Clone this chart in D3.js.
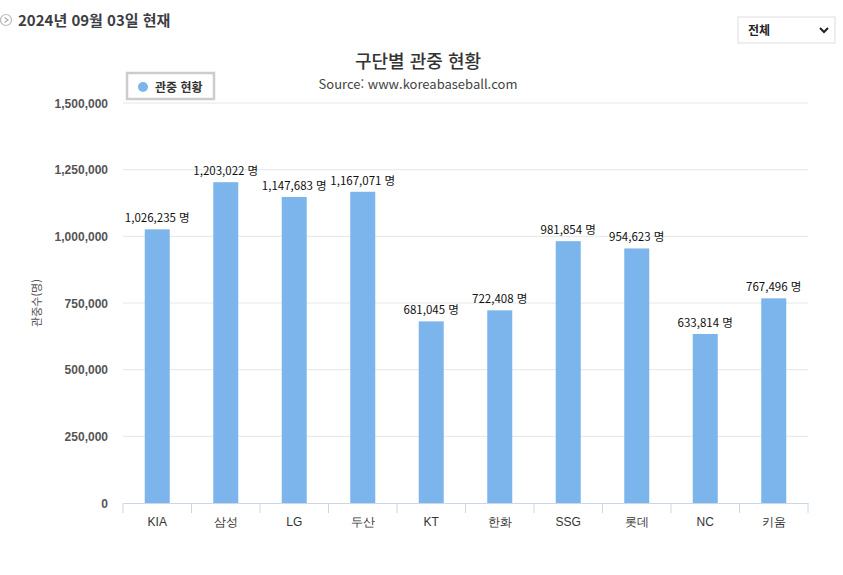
<!DOCTYPE html>
<html lang="ko">
<head>
<meta charset="UTF-8">
<title>구단별 관중 현황</title>
<script src="https://d3js.org/d3.v7.min.js"></script>
<style>
  body { margin: 0; background: #fff; font-family: "Noto Sans CJK KR", "Noto Sans", sans-serif; }
  svg { display: block; }
  .grid line { stroke: #e6e6e6; }
  .axis-y text { fill: #555; font-size: 12px; font-weight: 600; }
  .axis-x text { fill: #333; font-size: 12px; }
  .label { font-size: 11.5px; fill: #111; text-anchor: middle; }
</style>
</head>
<body>
<div id="chart"></div>
<script>
  const teams = ["KIA", "삼성", "LG", "두산", "KT", "한화", "SSG", "롯데", "NC", "키움"];
  const attendance = [1026235, 1203022, 1147683, 1167071, 681045, 722408, 981854, 954623, 633814, 767496];
  const yTicks = [0, 250000, 500000, 750000, 1000000, 1250000, 1500000];

  const width = 843, height = 575;
  const margin = {top: 103, right: 35, bottom: 72, left: 123};
  const innerW = width - margin.left - margin.right;
  const innerH = height - margin.top - margin.bottom;

  const svg = d3.select("#chart").append("svg")
      .attr("width", width)
      .attr("height", height);

  // header: date
  const head = svg.append("g").attr("transform", "translate(6,20)");
  head.append("circle").attr("r", 5.5).attr("fill", "none").attr("stroke", "#bbb").attr("stroke-width", 1.2);
  head.append("path").attr("d", "M-1.5,-2.5 L2,0 L-1.5,2.5").attr("fill", "none").attr("stroke", "#aaa").attr("stroke-width", 1.2);
  svg.append("text").attr("x", 18).attr("y", 26)
      .attr("font-size", 15).attr("font-weight", 700).attr("fill", "#3d3d44")
      .text("2024년 09월 03일 현재");

  // select box
  const sel = svg.append("g").attr("transform", "translate(738,17)");
  sel.append("rect").attr("width", 97).attr("height", 26).attr("fill", "#fff").attr("stroke", "#ddd");
  sel.append("text").attr("x", 10).attr("y", 18).attr("font-size", 12).attr("font-weight", 600).attr("fill", "#222").text("전체");
  sel.append("path").attr("d", "M82,11 L86,15 L90,11").attr("fill", "none").attr("stroke", "#222").attr("stroke-width", 2);

  // title
  svg.append("text").attr("x", 418).attr("y", 68).attr("text-anchor", "middle")
      .attr("font-size", 18).attr("font-weight", 500).attr("fill", "#333").text("구단별 관중 현황");
  svg.append("text").attr("x", 418).attr("y", 89).attr("text-anchor", "middle")
      .attr("font-size", 13).attr("fill", "#444").text("Source: www.koreabaseball.com");

  const g = svg.append("g").attr("transform", `translate(${margin.left},${margin.top})`);

  const x = d3.scaleBand().domain(teams).range([0, innerW]).padding(0);
  const y = d3.scaleLinear().domain([0, 1500000]).range([innerH, 0]);
  const barW = 25;

  // gridlines
  g.append("g").attr("class", "grid")
    .selectAll("line").data(yTicks.filter(d => d > 0)).enter().append("line")
      .attr("x1", 0).attr("x2", innerW)
      .attr("y1", d => y(d)).attr("y2", d => y(d));

  // y axis
  const yAxis = g.append("g").attr("class", "axis-y")
      .call(d3.axisLeft(y).tickValues(yTicks).tickSize(0).tickPadding(15).tickFormat(d3.format(",")));
  yAxis.select(".domain").remove();
  yAxis.selectAll("text").attr("dy", "0.35em");

  svg.append("text")
      .attr("transform", `translate(41,${margin.top + innerH / 2}) rotate(-90)`)
      .attr("text-anchor", "middle").attr("font-size", 11).attr("fill", "#555")
      .text("관중수(명)");

  // bars
  g.selectAll(".bar").data(attendance).enter().append("rect")
      .attr("class", "bar")
      .attr("fill", "#7cb5ec")
      .attr("x", (d, i) => x(teams[i]) + x.bandwidth() / 2 - barW / 2)
      .attr("y", d => y(d))
      .attr("width", barW)
      .attr("height", d => innerH - y(d));

  // data labels
  g.selectAll(".label").data(attendance).enter().append("text")
      .attr("class", "label")
      .attr("x", (d, i) => x(teams[i]) + x.bandwidth() / 2)
      .attr("y", d => y(d) - 7)
      .text(d => d3.format(",")(d) + " 명");

  // x axis
  const xAxis = g.append("g").attr("class", "axis-x")
      .attr("transform", `translate(0,${innerH})`)
      .call(d3.axisBottom(x).tickSize(0).tickPadding(14));
  xAxis.select(".domain").attr("stroke", "#ccd6eb");
  xAxis.selectAll(".bound").data(d3.range(teams.length + 1)).enter().append("line")
      .attr("class", "bound")
      .attr("x1", i => i * x.step()).attr("x2", i => i * x.step())
      .attr("y1", 0).attr("y2", 10)
      .attr("stroke", "#ccd6eb");

  // legend
  const lg = svg.append("g").attr("transform", "translate(127,73)");
  lg.append("rect").attr("width", 87).attr("height", 26).attr("fill", "#fff")
      .attr("stroke", "#ccc").attr("stroke-width", 2.5);
  lg.append("circle").attr("cx", 16).attr("cy", 14).attr("r", 5).attr("fill", "#7cb5ec");
  lg.append("text").attr("x", 28).attr("y", 19).attr("font-size", 12).attr("font-weight", 700)
      .attr("fill", "#333").text("관중 현황");
</script>
</body>
</html>
